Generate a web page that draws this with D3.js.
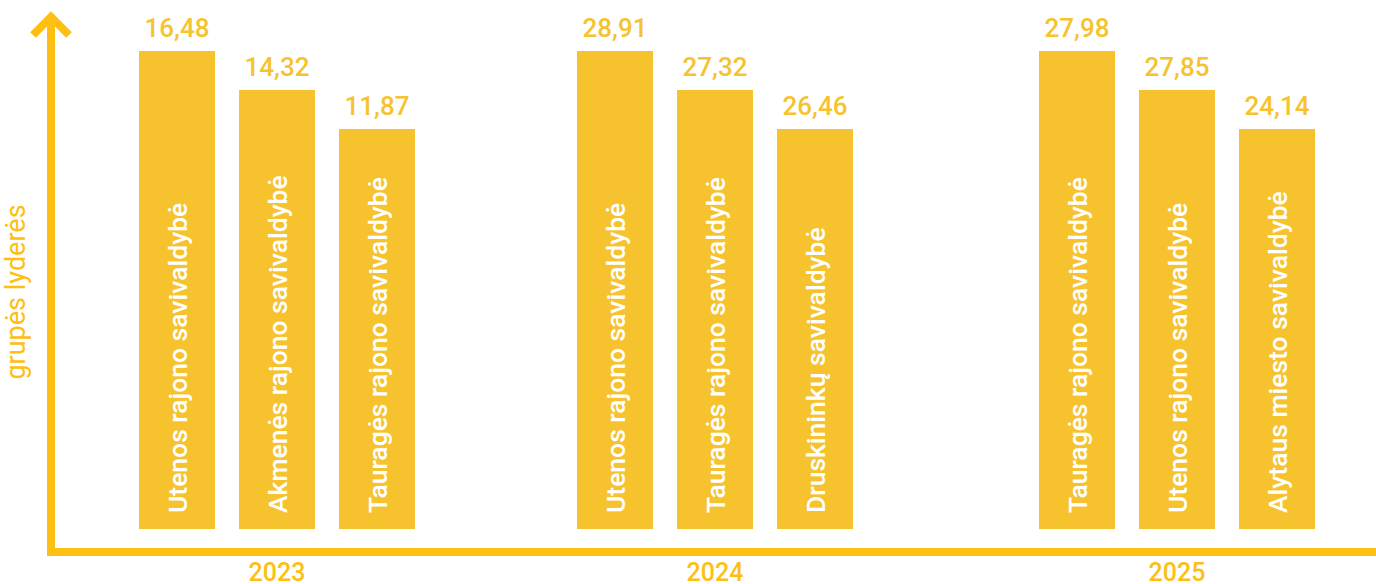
<!DOCTYPE html>
<html><head><meta charset="utf-8">
<script src="https://cdn.jsdelivr.net/npm/d3@7"></script>
<style>html,body{margin:0;padding:0;background:#fff;}svg{display:block;}</style>
</head><body>
<svg id="c" width="1376" height="584"></svg>
<script>
const years = ["2023", "2024", "2025"];
const names2023 = ["Utenos rajono savivaldybė", "Akmenės rajono savivaldybė", "Tauragės rajono savivaldybė"];
const names2024 = ["Utenos rajono savivaldybė", "Tauragės rajono savivaldybė", "Druskininkų savivaldybė"];
const names2025 = ["Tauragės rajono savivaldybė", "Utenos rajono savivaldybė", "Alytaus miesto savivaldybė"];
const values2023 = [16.48, 14.32, 11.87];
const values2024 = [28.91, 27.32, 26.46];
const values2025 = [27.98, 27.85, 24.14];
const ranks = [1, 2, 3];
const yTitle = "grupės lyderės";

const names = [names2023, names2024, names2025];
const values = [values2023, values2024, values2025];
const data = [];
years.forEach((y, gi) => ranks.forEach((r, i) => data.push({year: y, rank: r, name: names[gi][i], value: values[gi][i]})));

const svg = d3.select("#c");
const barColor = "#F6C32E", axisColor = "#FDBF12", labelColor = "#F6C32E";
const font = "Roboto, 'Noto Sans', sans-serif";

const bottom = 529;
const groupX = d3.scaleOrdinal().domain(years).range([277, 715, 1177]);
const inner = d3.scaleBand().domain(ranks).range([-138, 138]).paddingInner(0.24);
const topY = d3.scalePoint().domain(ranks).range([51, 129]);
const fmt = v => d3.format(".2f")(v).replace(".", ",");

const bars = svg.append("g").selectAll("g").data(data).join("g");
bars.append("rect")
  .attr("x", d => groupX(d.year) + inner(d.rank))
  .attr("y", d => topY(d.rank))
  .attr("width", inner.bandwidth())
  .attr("height", d => bottom - topY(d.rank))
  .attr("fill", barColor);
bars.append("text")
  .attr("transform", d => `translate(${groupX(d.year) + inner(d.rank) + inner.bandwidth()/2},${bottom - 16}) rotate(-90)`)
  .attr("dy", "0.36em")
  .attr("fill", "#fff")
  .attr("font-family", font).attr("font-weight", 500).attr("font-size", 26.5)
  .text(d => d.name);
bars.append("text")
  .attr("x", d => groupX(d.year) + inner(d.rank) + inner.bandwidth()/2)
  .attr("y", d => topY(d.rank) - 14)
  .attr("text-anchor", "middle")
  .attr("fill", labelColor)
  .attr("font-family", font).attr("font-weight", 500).attr("font-size", 26)
  .text(d => fmt(d.value));

// axes
const ax = svg.append("g").attr("stroke", axisColor).attr("fill", "none").attr("stroke-width", 8);
ax.append("path").attr("d", "M51,17 V552 H1376").attr("stroke-linejoin", "miter");
ax.append("path").attr("d", "M33,35 L51,17 L69,35").attr("stroke-linejoin", "miter");

svg.append("g").selectAll("text").data(years).join("text")
  .attr("x", d => groupX(d)).attr("y", 581)
  .attr("text-anchor", "middle")
  .attr("fill", axisColor)
  .attr("font-family", font).attr("font-weight", 500).attr("font-size", 25)
  .text(d => d);

svg.append("text")
  .attr("transform", "translate(16,292) rotate(-90)")
  .attr("dy", "0.35em")
  .attr("text-anchor", "middle")
  .attr("fill", axisColor)
  .attr("font-family", font).attr("font-weight", 400).attr("font-size", 27)
  .text(yTitle);
</script>
</body></html>
